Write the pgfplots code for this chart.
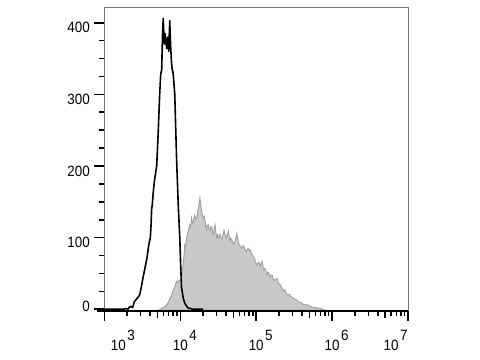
\documentclass[border=0pt]{standalone}
\usepackage{pgfplots}
\pgfplotsset{compat=1.18}
\usepackage{fontspec}
\setmainfont{Liberation Sans}[FakeStretch=0.9]
\newcommand{\ex}[1]{10\rlap{\hspace{1.5bp}\raisebox{10bp}{#1}}}
\begin{document}
\begin{tikzpicture}
\begin{axis}[
  scale only axis,
  width=304bp, height=304bp,
  xmin=3, xmax=7, ymin=-2, ymax=422,
  axis line style={black!55, line width=0.6bp},
  tick align=outside,
  xtick pos=bottom, ytick pos=left,
  tick style={black, line width=1.6bp},
  major tick length=10bp,
  minor tick length=5bp,
  xtick={3,4,5,6,7},
  xticklabels={\hspace*{28bp}\ex{3}, \ex{4}, \ex{5}, \ex{6}, \ex{7}\hspace*{34bp}},
  minor xtick={3.301,3.477,3.602,3.778,3.845,3.903,3.954,
               4.301,4.477,4.602,4.778,4.845,4.903,4.954,
               5.301,5.477,5.602,5.778,5.845,5.903,5.954,
               6.301,6.477,6.602,6.778,6.845,6.903,6.954},
  extra x ticks={3.699,4.699,5.699,6.699},
  extra x tick labels={},
  extra x tick style={major tick length=7.5bp},
  ytick={0,100,200,300,400},
  yticklabels={\raisebox{16bp}{0},100,200,300,400},
  minor y tick num=3,
  tick label style={font=\fontsize{15}{16}\selectfont},
  xticklabel style={anchor=base, yshift=-30bp},
  yticklabel style={yshift=-5bp, xshift=-1bp},
  /pgf/number format/assume math mode=true,
  clip=false,
]
\addplot[fill=black!21, draw=black!38, line width=0.9bp] table {
3.700 0
3.728 0
3.750 1
3.768 2
3.790 3
3.817 6
3.840 9
3.861 15
3.880 18
3.901 25
3.925 30
3.950 39
3.965 37
3.980 40
4.000 41
4.016 43
4.033 60
4.045 70
4.060 90
4.070 88
4.079 98
4.090 102
4.103 109
4.115 112
4.126 118
4.137 115
4.148 127
4.157 121
4.166 120
4.180 128
4.192 131
4.205 126
4.219 128
4.230 138
4.238 140
4.248 148
4.258 155
4.268 146
4.278 140
4.290 131
4.302 127
4.313 130
4.325 125
4.335 116
4.344 112
4.355 117
4.368 118
4.380 112
4.391 110
4.404 116
4.417 114
4.427 106
4.437 104
4.447 112
4.457 118
4.467 108
4.477 100
4.490 104
4.501 99
4.512 101
4.523 105
4.537 100
4.550 98
4.563 104
4.576 110
4.590 104
4.603 100
4.618 103
4.633 109
4.645 101
4.656 95
4.665 99
4.675 98
4.688 94
4.699 90
4.710 93
4.722 95
4.733 100
4.744 106
4.756 98
4.768 92
4.778 90
4.788 88
4.800 87
4.811 85
4.826 89
4.841 87
4.855 83
4.868 80
4.881 83
4.894 85
4.907 82
4.921 83
4.934 79
4.947 76
4.960 74
4.974 72
4.990 66
5.009 62
5.020 64
5.033 66
5.043 63
5.053 60
5.065 64
5.076 67
5.088 60
5.099 55
5.109 57
5.119 56
5.130 51
5.142 48
5.154 52
5.166 50
5.175 47
5.185 45
5.198 48
5.212 47
5.225 42
5.238 40
5.256 42
5.274 43
5.286 38
5.298 35
5.308 35
5.318 34
5.328 31
5.338 30
5.350 27
5.362 25
5.373 27
5.384 26
5.398 22
5.411 20
5.424 21
5.437 21
5.450 18
5.464 17
5.480 16
5.494 15
5.512 14
5.530 13
5.547 11
5.563 10
5.580 10
5.596 9
5.616 7
5.636 6
5.654 7
5.672 6
5.693 5
5.715 4
5.735 3
5.755 3
5.780 2
5.804 2
5.826 1
5.848 1
5.880 0
5.914 0
} \closedcycle;
\addplot[black, line width=1.6bp, line join=round] table {
3.000 0
3.100 0
3.250 0
3.287 1
3.310 0
3.330 3
3.354 4
3.370 2
3.397 11
3.430 15
3.464 20
3.485 30
3.507 43
3.530 55
3.560 71
3.585 90
3.605 100
3.615 118
3.622 140
3.630 145
3.645 165
3.660 180
3.689 200
3.710 250
3.728 300
3.742 328
3.755 335
3.765 380
3.775 406
3.783 385
3.790 370
3.800 385
3.810 375
3.821 364
3.835 380
3.848 360
3.855 385
3.861 403
3.868 380
3.874 364
3.884 345
3.891 336
3.905 330
3.927 300
3.940 250
3.954 200
3.975 140
3.993 100
4.005 60
4.016 30
4.040 15
4.060 8
4.100 2
4.166 0
4.300 0
};
\draw[black, line width=1.8bp] ([xshift=-7bp]rel axis cs:0,0) -- (rel axis cs:1,0);
\coordinate (ll) at (rel axis cs:0,0);
\coordinate (ur) at (rel axis cs:1,1);
\end{axis}
\useasboundingbox ([xshift=-104.5bp, yshift=-49bp]ll) rectangle ([xshift=72bp, yshift=7bp]ur);
\end{tikzpicture}
\end{document}
